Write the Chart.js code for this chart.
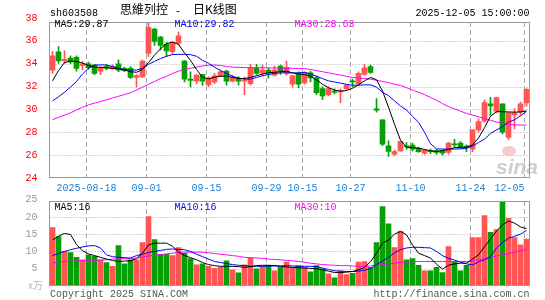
<!DOCTYPE html>
<html><head><meta charset="utf-8">
<script src="https://cdn.jsdelivr.net/npm/chart.js@4.4.1/dist/chart.umd.min.js"></script>
<style>
html,body{margin:0;padding:0;background:#fff;}
#wrap{position:relative;width:545px;height:300px;overflow:hidden;background:#fff;}
canvas{position:absolute;left:0;top:0;}
</style></head><body>
<div id="wrap"><canvas id="k" width="545" height="300"></canvas><canvas id="v" width="545" height="300"></canvas></div>
<script>
const dates = ['08-08','08-11','08-12','08-13','08-14','08-15','08-18','08-19','08-20','08-21','08-22','08-25','08-26','08-27','08-28','08-29',
'09-01','09-02','09-03','09-04','09-05','09-08','09-09','09-10','09-11','09-12','09-15','09-16','09-17','09-18','09-19','09-22','09-23','09-24','09-25','09-26','09-29','09-30',
'10-09','10-10','10-13','10-14','10-15','10-16','10-17','10-20','10-21','10-22','10-23','10-24','10-27','10-28','10-29','10-30','10-31',
'11-03','11-04','11-05','11-06','11-07','11-10','11-11','11-12','11-13','11-14','11-17','11-18','11-19','11-20','11-21','11-24','11-25','11-26','11-27','11-28',
'12-01','12-02','12-03','12-04','12-05'];
const openP = [33.44,35.03,34.24,34.50,34.56,33.85,34.00,33.88,33.35,33.75,33.55,34.00,33.60,33.59,32.80,32.85,34.91,37.03,36.32,35.70,35.06,35.80,34.24,32.65,32.47,33.06,32.15,32.41,32.94,33.35,32.47,32.70,32.47,32.26,33.59,33.20,33.44,33.00,33.79,33.15,32.20,33.15,32.32,33.20,32.76,31.82,31.29,31.60,31.53,31.82,32.47,32.26,33.06,33.74,30.06,29.09,26.82,26.09,26.38,26.80,26.88,26.59,26.18,26.40,26.40,26.38,26.24,26.97,27.06,26.80,26.53,28.21,28.97,30.50,29.82,30.50,27.56,29.50,29.76,30.56];
const highP = [35.06,35.50,35.12,34.70,34.70,34.20,34.15,33.95,33.75,33.95,33.90,34.35,33.70,33.75,33.05,34.32,37.56,37.10,36.40,35.88,35.95,36.76,34.30,33.30,33.05,33.10,32.85,33.15,33.44,33.44,33.00,32.85,32.85,33.94,33.94,33.88,33.59,33.79,33.88,34.24,33.00,33.30,33.30,33.35,32.94,31.97,31.97,31.80,31.80,32.18,32.65,33.30,33.94,33.88,30.94,29.12,27.26,26.44,27.20,27.10,27.06,26.70,26.50,26.53,26.50,26.44,27.12,27.38,27.18,26.90,28.21,29.18,30.85,31.06,31.09,30.50,29.76,30.06,30.65,31.82];
const lowP = [33.15,34.03,34.03,34.00,33.35,33.45,33.50,33.05,33.05,33.45,33.50,33.30,33.30,32.70,31.97,32.80,34.62,35.60,35.20,34.62,34.82,35.65,32.41,31.97,32.26,32.10,32.00,32.26,32.88,32.12,32.41,32.12,31.29,32.12,33.06,32.94,32.76,32.91,33.06,33.00,31.97,31.91,32.20,32.41,31.29,30.85,31.18,31.35,30.59,31.68,31.97,32.12,33.00,33.15,29.76,26.82,25.88,25.94,26.32,26.50,26.38,26.24,26.06,26.12,26.06,26.00,26.09,26.68,26.62,26.30,26.30,28.00,28.88,29.47,29.70,27.85,27.35,28.30,29.53,30.29];
const closeP = [34.68,34.24,34.38,34.15,33.59,34.00,33.65,33.15,33.65,33.60,33.78,33.44,33.40,32.80,32.97,34.24,37.18,35.94,35.59,35.12,35.88,36.44,32.65,32.53,33.00,32.47,32.75,32.94,33.29,32.47,32.80,32.47,32.53,33.65,33.15,33.44,33.20,33.44,33.35,33.68,32.94,32.20,33.24,32.76,31.47,31.18,31.82,31.50,31.62,32.12,32.41,33.15,33.65,33.24,29.94,26.97,26.32,26.32,27.20,26.72,26.53,26.30,26.44,26.30,26.24,26.18,27.06,26.90,26.74,26.65,28.21,28.94,30.59,30.30,31.03,28.00,29.70,29.70,30.50,31.76];
const ma5 = [32.5,33.4,34.1,34.22,34.2,34.05,33.85,33.7,33.68,33.65,33.6,33.55,33.45,33.3,33.25,33.5,34.1,34.75,35.3,35.75,35.88,35.7,34.95,34.3,33.5,32.8,32.68,32.82,32.9,32.92,32.8,32.72,32.7,32.8,32.95,33.1,33.2,33.25,33.3,33.35,33.2,33.1,33.05,32.9,32.6,32.2,31.9,31.7,31.6,31.65,31.85,32.15,32.5,32.8,32.6,31.6,30.2,28.7,27.3,26.7,26.65,26.62,26.5,26.38,26.32,26.4,26.5,26.65,26.68,26.7,26.9,27.5,28.4,29.4,29.8,29.8,29.78,29.76,29.78,29.87];
const ma10 = [30.75,31.1,31.5,31.95,32.45,33.1,33.6,33.88,33.9,33.88,33.75,33.6,33.5,33.45,33.44,33.6,33.95,34.2,34.45,34.65,34.8,34.82,34.82,34.8,34.65,34.3,34.05,33.7,33.4,33.15,32.9,32.75,32.65,32.65,32.8,32.95,33.05,33.15,33.2,33.2,33.2,33.2,33.24,33.1,32.9,32.7,32.5,32.4,32.3,32.2,32.12,32.12,32.15,32.15,31.95,31.5,31.2,30.75,30.3,29.95,29.4,28.88,28.0,27.0,26.55,26.53,26.53,26.53,26.55,26.6,26.8,27.1,27.4,27.9,28.2,28.5,28.88,29.1,29.45,29.82];
const ma30 = [29.1,29.3,29.5,29.7,29.95,30.2,30.4,30.55,30.7,30.85,31.0,31.15,31.3,31.45,31.7,31.95,32.2,32.45,32.7,32.9,33.15,33.35,33.5,33.6,33.7,33.8,33.88,33.88,33.85,33.75,33.7,33.68,33.66,33.65,33.65,33.65,33.64,33.62,33.62,33.6,33.6,33.58,33.57,33.5,33.4,33.3,33.2,33.1,33.0,32.9,32.8,32.75,32.7,32.65,32.55,32.45,32.35,32.2,32.1,31.9,31.7,31.5,31.3,31.05,30.8,30.5,30.25,30.05,29.85,29.65,29.5,29.35,29.2,29.05,28.9,28.8,28.7,28.65,28.63,28.63];
const volume = [16.9,14.3,10.0,9.7,8.3,7.6,9.0,8.6,7.6,6.8,5.7,11.7,6.4,7.6,7.6,12.6,20.1,13.4,9.2,9.2,8.8,11.1,9.5,7.9,6.1,6.4,5.7,5.1,5.5,7.3,4.7,3.8,6.1,8.1,5.0,5.7,6.0,4.4,5.4,6.9,5.4,5.9,5.4,4.1,5.9,5.0,3.5,2.4,4.4,3.3,3.7,6.9,7.1,5.4,12.6,23.0,18.0,11.1,15.8,7.6,7.9,6.0,4.4,4.4,5.4,3.9,11.4,7.1,4.4,6.0,14.0,14.0,20.4,15.5,16.3,24.2,19.6,14.0,11.9,13.6];
const vma5 = [13.3,14.4,15.2,14.9,12.0,10.2,9.3,8.8,8.3,7.8,7.4,7.1,7.2,7.3,7.9,9.5,11.9,12.4,12.4,12.4,11.5,9.8,8.8,8.2,7.6,6.8,6.2,5.9,5.7,5.7,5.7,5.6,5.4,5.6,5.9,6.0,6.0,5.9,5.7,5.5,5.4,5.3,5.2,5.1,5.0,4.7,4.3,3.9,3.9,4.0,4.2,4.7,5.4,7.0,9.5,12.4,13.3,15.0,15.8,14.8,11.9,9.5,8.8,8.1,6.3,4.9,6.0,6.4,6.6,6.6,7.8,9.0,11.4,13.6,15.9,17.7,18.8,18.2,17.1,16.6];
const vma10 = [8.8,9.4,10.0,10.5,10.9,11.3,11.6,11.7,11.0,9.0,8.5,8.3,8.2,8.1,8.8,9.2,9.7,10.0,10.3,10.6,10.7,10.6,10.5,10.0,9.2,8.5,7.8,7.1,6.8,6.5,6.2,6.0,5.9,5.7,5.7,5.7,5.75,5.8,5.8,5.9,5.8,5.7,5.7,5.7,5.6,5.2,4.8,4.4,4.3,4.2,4.2,4.3,4.6,5.0,6.2,7.2,8.3,9.6,10.5,11.0,11.2,11.2,11.1,11.0,10.0,8.8,8.0,7.5,6.9,6.4,6.1,7.0,7.6,8.5,11.0,12.6,13.8,14.4,15.0,16.1];
const vma30 = [6.6,7.0,7.1,7.2,7.25,7.3,7.4,7.45,7.5,7.6,7.8,7.9,7.9,7.9,8.1,8.4,8.7,8.9,9.1,9.3,9.5,9.7,9.8,9.8,9.8,9.8,9.6,9.4,9.2,9.0,8.8,8.6,8.3,8.2,8.1,8.0,7.8,7.7,7.6,7.4,7.3,7.1,6.9,6.6,6.4,6.2,6.1,6.0,5.9,5.9,5.8,5.7,5.7,5.8,6.0,6.2,6.4,6.6,6.9,7.0,7.0,7.1,7.1,7.1,7.1,7.1,7.1,7.1,7.1,7.1,7.2,7.6,7.9,8.3,8.7,9.0,9.4,9.8,10.2,10.6];
const tickDates = ['08-18','09-01','09-15','09-29','10-15','10-27','11-10','11-24','12-05'];
const tickLabels = ['2025-08-18','09-01','09-15','09-29','10-15','10-27','11-10','11-24','12-05'];
const priceTicks = [24,26,28,30,32,34,36,38];
const volTicks = [5,10,15,20,25];

const RED = '#ff5555', GREEN = '#06a006';
const MONO = "'Liberation Mono','DejaVu Sans Mono',monospace";
const upColor = c => closeP[c.dataIndex] >= openP[c.dataIndex] ? RED : GREEN;

function drawGrid(chart, hVals){
  const {ctx, chartArea:a, scales:{x,y}} = chart;
  ctx.save();
  ctx.lineWidth = 1; ctx.strokeStyle = '#aaaaaa';
  ctx.setLineDash([1,2]);
  hVals.forEach(v=>{
    const py = Math.round(y.getPixelForValue(v)) + 0.5;
    if (py <= a.top + 1 || py >= a.bottom - 1) return;
    ctx.beginPath(); ctx.moveTo(a.left, py); ctx.lineTo(a.right, py); ctx.stroke();
  });
  ctx.setLineDash([5,3]);
  tickDates.forEach(d=>{
    const px = Math.floor(x.getPixelForValue(dates.indexOf(d)) - 2) + 0.5;
    ctx.beginPath(); ctx.moveTo(px, a.top); ctx.lineTo(px, a.bottom); ctx.stroke();
  });
  ctx.restore();
}
function drawFrame(chart){
  const {ctx, chartArea:a} = chart;
  ctx.save(); ctx.strokeStyle = '#999999'; ctx.lineWidth = 1; ctx.setLineDash([]);
  const l = Math.floor(a.left)+0.5, r = Math.floor(a.right)+0.5, t = Math.floor(a.top)+0.5, b = Math.floor(a.bottom)-0.5;
  ctx.strokeRect(l, t, r-l, b-t);
  ctx.restore();
}
function txt(ctx, s, x, y, color, font, align){
  ctx.fillStyle = color; ctx.font = font; ctx.textAlign = align || 'left'; ctx.textBaseline = 'alphabetic';
  ctx.fillText(s, x, y);
}

const pricePlugin = {
  id:'pricePlugin',
  beforeDatasetsDraw(chart){
    drawGrid(chart, [26,28,30,32,34,36]);
    const ctx = chart.ctx;
    ctx.save();
    ctx.fillStyle = 'rgba(240,170,170,0.6)';
    ctx.beginPath(); ctx.ellipse(509, 151, 7, 5, 0, 0, Math.PI*2); ctx.fill();
    txt(ctx, 'sina', 496, 174, 'rgba(190,190,190,0.75)', "italic bold 21px 'Liberation Sans',sans-serif");
    ctx.restore();
  },
  afterDraw(chart){
    drawFrame(chart);
    const {ctx, scales:{x}} = chart;
    ctx.save();
    const f10 = "10px " + MONO;
    txt(ctx, 'sh603508', 50, 15.5, '#000', f10);
    txt(ctx, '2025-12-05 15:00:00', 529.5, 15.5, '#000', f10, 'right');
    txt(ctx, '思維列控', 120, 14, '#000', "12px 'Noto Sans CJK SC'");
    txt(ctx, '-', 178, 14, '#000', f10, 'center');
    txt(ctx, '日K线图', 193, 14, '#000', "12px 'Noto Sans CJK SC'");
    txt(ctx, 'MA5:' + ma5[ma5.length-1].toFixed(2), 54.5, 26.5, '#000', f10);
    txt(ctx, 'MA10:' + ma10[ma10.length-1].toFixed(2), 174.5, 26.5, '#0000ff', f10);
    txt(ctx, 'MA30:' + ma30[ma30.length-1].toFixed(2), 294.5, 26.5, '#ff00ff', f10);
    tickDates.forEach((d,k)=>{
      const px = x.getPixelForValue(dates.indexOf(d)) - 2;
      const last = k === tickDates.length-1;
      txt(ctx, tickLabels[k], px, 190.5, '#1a7fd4', f10, last ? 'right' : 'center');
    });
    ctx.restore();
  }
};
const volPlugin = {
  id:'volPlugin',
  beforeDatasetsDraw(chart){ drawGrid(chart, [5,10,15,20]); },
  afterDraw(chart){
    drawFrame(chart);
    const ctx = chart.ctx;
    ctx.save();
    const f10 = "10px " + MONO;
    txt(ctx, 'MA5:' + Math.floor(vma5[vma5.length-1]), 54.5, 210, '#000', f10);
    txt(ctx, 'MA10:' + Math.floor(vma10[vma10.length-1]), 174.5, 210, '#0000ff', f10);
    txt(ctx, 'MA30:' + Math.floor(vma30[vma30.length-1]), 294.5, 210, '#ff00ff', f10);
    txt(ctx, 'x万', 28, 289, '#b8b8b8', "10px 'Noto Sans CJK SC'");
    txt(ctx, 'Copyright 2025 SINA.COM', 50, 297, '#555', f10);
    txt(ctx, 'http://finance.sina.com.cn', 529.5, 297, '#555', f10, 'right');
    ctx.restore();
  }
};

const lineDs = (data, color) => ({type:'line', data, borderColor:color, borderWidth:1, pointRadius:0, tension:0, order:0, fill:false});

new Chart(document.getElementById('k'), {
  data: {
    labels: dates,
    datasets: [
      lineDs(ma5, '#000000'),
      lineDs(ma10, '#0000ff'),
      lineDs(ma30, '#ff00ff'),
      {type:'bar', data: openP.map((o,i)=>[o, closeP[i]]), backgroundColor: upColor, barThickness:5, grouped:false, order:1, minBarLength:1},
      {type:'bar', data: lowP.map((l,i)=>[l, highP[i]]), backgroundColor: upColor, barThickness:1, grouped:false, order:2}
    ]
  },
  options: {
    responsive:false, animation:false, devicePixelRatio:1,
    layout:{padding:{left:0, right:15.5, top:22, bottom:122}},
    plugins:{legend:{display:false}, tooltip:{enabled:false}},
    scales:{
      x:{type:'category', display:false, offset:true},
      y:{type:'linear', min:24, max:37.65,
         afterFit(s){ s.width = 49.5; },
         afterBuildTicks(s){ s.ticks = priceTicks.map(v=>({value:v})); },
         grid:{display:false}, border:{display:false},
         ticks:{color:'#ff0000', font:{family:MONO, size:10}, padding:4, autoSkip:false}}
    }
  },
  plugins:[pricePlugin]
});

new Chart(document.getElementById('v'), {
  data: {
    labels: dates,
    datasets: [
      lineDs(vma5, '#000000'),
      lineDs(vma10, '#0000ff'),
      lineDs(vma30, '#ff00ff'),
      {type:'bar', data: volume, backgroundColor: upColor, barThickness:5, grouped:false, order:1}
    ]
  },
  options: {
    responsive:false, animation:false, devicePixelRatio:1,
    layout:{padding:{left:0, right:15.5, top:201, bottom:14}},
    plugins:{legend:{display:false}, tooltip:{enabled:false}},
    scales:{
      x:{type:'category', display:false, offset:true},
      y:{type:'linear', min:0, max:24.6,
         afterFit(s){ s.width = 49.5; },
         afterBuildTicks(s){ s.ticks = volTicks.map(v=>({value:v})); },
         grid:{display:false}, border:{display:false},
         ticks:{color:'#999999', font:{family:MONO, size:10}, padding:4, autoSkip:false}}
    }
  },
  plugins:[volPlugin]
});
</script>
</body></html>
